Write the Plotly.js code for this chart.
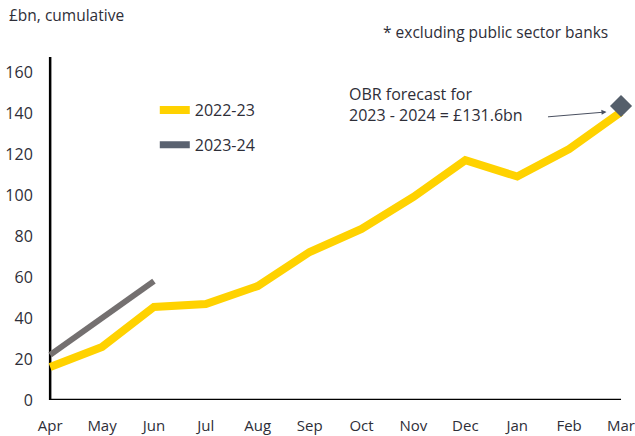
<!DOCTYPE html>
<html><head><meta charset="utf-8">
<script src="https://cdn.plot.ly/plotly-3.0.1.min.js"></script>
<style>html,body{margin:0;padding:0;background:#fff}#c{width:635px;height:436px}</style>
</head><body><div id="c"></div>
<script>
const months = ["Apr","May","Jun","Jul","Aug","Sep","Oct","Nov","Dec","Jan","Feb","Mar"];
const fy2223 = [16.1, 25.9, 45.4, 46.8, 55.6, 72.2, 83.4, 99, 117, 109, 122.4, 140.5];
const fy2324 = [22, 40, 58];
const forecastMonth = ["Mar"];
const forecastValue = [143.4];
const yTicks = [0,20,40,60,80,100,120,140,160];

const font = {family:"'Open Sans', Lato, sans-serif", color:"#2e2e38", size:15};
const xi = m => months.indexOf(m);

const traces = [
  {x: months.map(xi), y: fy2223, type:"scatter", mode:"lines", name:"2022-23",
   line:{color:"#FFD200", width:8}, legendgroup:"a"},
  {x: months.slice(0, fy2324.length).map(xi), y: fy2324, type:"scatter", mode:"lines", name:"2023-24",
   line:{color:"#747070", width:6}, legendgroup:"b", showlegend:false},
  {x: [null], y: [null], type:"scatter", mode:"lines", name:"2023-24",
   line:{color:"#5a6270", width:7}, legendgroup:"b"},
  {x: forecastMonth.map(xi), y: forecastValue, type:"scatter", mode:"markers", showlegend:false,
   marker:{symbol:"diamond", size:17, color:"#555f6b"}, cliponaxis:false}
];

const layout = {
  width:635, height:436, font: font,
  paper_bgcolor:"#fff", plot_bgcolor:"#fff",
  margin:{l:46, r:1, t:57, b:36},
  showlegend:true,
  legend:{x:0.185, y:0.895, xanchor:"left", yanchor:"top", bgcolor:"rgba(0,0,0,0)",
          font:{size:16, color:"#2e2e38"}, tracegroupgap:11, itemwidth:30},
  xaxis:{range:[-0.08, 11.25], tickmode:"array", tickvals: months.map(xi), ticktext: months,
         showgrid:false, zeroline:false, showline:false, ticks:"outside", ticklen:12,
         tickcolor:"rgba(0,0,0,0)", tickfont:{size:15}, ticklabeloverflow:"allow"},
  yaxis:{range:[0, 167.3], tickmode:"array", tickvals:yTicks, showgrid:false, zeroline:false,
         showline:false, ticks:"outside", ticklen:9, tickcolor:"rgba(0,0,0,0)", tickfont:{size:16}},
  shapes:[
    {type:"line", xref:"x", yref:"y", x0:0, x1:0, y0:0, y1:167.3, line:{color:"#000", width:2.5}, layer:"below"},
    {type:"line", xref:"x", yref:"y", x0:0, x1:11, y0:0, y1:0, line:{color:"#000", width:2.5}, layer:"below"}
  ],
  annotations:[
    {xref:"paper", yref:"paper", x:-0.066, y:1.122, xanchor:"left", yanchor:"middle",
     text:"£bn, cumulative", showarrow:false, font:{size:15.5}},
    {xref:"paper", yref:"paper", x:0.96, y:1.073, xanchor:"right", yanchor:"middle",
     text:"* excluding public sector banks", showarrow:false, font:{size:15.5}},
    {xref:"x", yref:"y", x:5.72, y:144, xanchor:"left", yanchor:"middle", align:"left",
     text:"OBR forecast for<br>2023 - 2024 = £131.6bn", showarrow:false, font:{size:16}},
    {xref:"x", yref:"y", x:10.72, y:140.5, ax:-60, ay:5, axref:"pixel", ayref:"pixel",
     text:"", showarrow:true, arrowhead:2, arrowsize:1, arrowwidth:1, arrowcolor:"#4a5060"}
  ]
};
Plotly.newPlot("c", traces, layout, {displayModeBar:false, staticPlot:true});
</script></body></html>
